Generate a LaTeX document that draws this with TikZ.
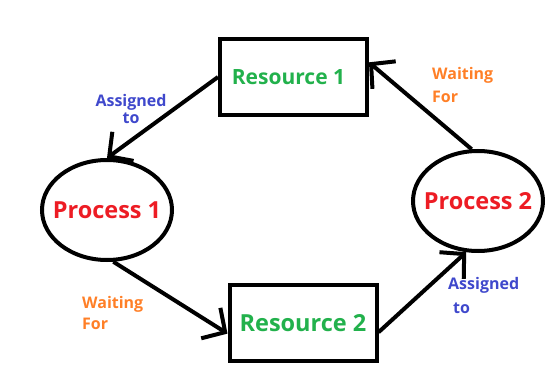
\documentclass[tikz,border=0pt]{standalone}
\usepackage{fontspec}
\setmainfont{Open Sans}
\usetikzlibrary{arrows.meta,shapes.geometric}
\definecolor{pred}{HTML}{ED1C24}
\definecolor{rgreen}{HTML}{22B14C}
\definecolor{lblue}{HTML}{3F48CC}
\definecolor{lorange}{HTML}{FF7F27}
\tikzset{
  resbox/.style={draw, line width=4pt, rectangle, minimum width=147pt, minimum height=76pt, inner sep=0pt, text=rgreen},
  procell/.style={draw, line width=4pt, ellipse, minimum width=130pt, minimum height=100pt, inner sep=0pt, text=pred, font=\fontsize{23.5}{26}\selectfont\bfseries},
  conn/.style={line width=4pt, -{Straight Barb[length=17pt,width=36pt]}},
  lab/.style={inner sep=0pt, font=\fontsize{16}{18}\selectfont\bfseries},
}
\begin{document}
\begin{tikzpicture}[x=1pt,y=-1pt]
\useasboundingbox (0,0) rectangle (555,385);
\node[resbox, font=\fontsize{21}{24}\selectfont\bfseries] (r1) at (293.5,77) {\hspace{-10pt}Resource 1};
\node[resbox, font=\fontsize{23.5}{26}\selectfont\bfseries] (r2) at (303,323) {Resource 2};
\node[procell] (p1) at (107,210) {\makebox[0pt][c]{Process 1}};
\node[procell] (p2) at (478,201) {\makebox[0pt][c]{Process 2}};
\draw[conn] (r1.west) -- (p1.north);
\draw[conn] (p1.-83) -- (r2.188);
\draw[conn] (r2.-7) -- (p2.257);
\draw[conn] (p2.97) -- (r1.11);
\node[lab, text=lblue, align=center] (a1) at (131,109) {Assigned\\[-1pt]to};
\node[lab, text=lorange, align=left, anchor=west] (w1) at (432,85) {Waiting\\[5pt]For};
\node[lab, text=lorange, align=left, anchor=west] (w2) at (82,313) {Waiting\\[3pt]For};
\node[lab, text=lblue, align=left, anchor=west] (a2) at (448,295) {Assigned\\[6pt]\hspace{5pt}to};
\end{tikzpicture}
\end{document}
